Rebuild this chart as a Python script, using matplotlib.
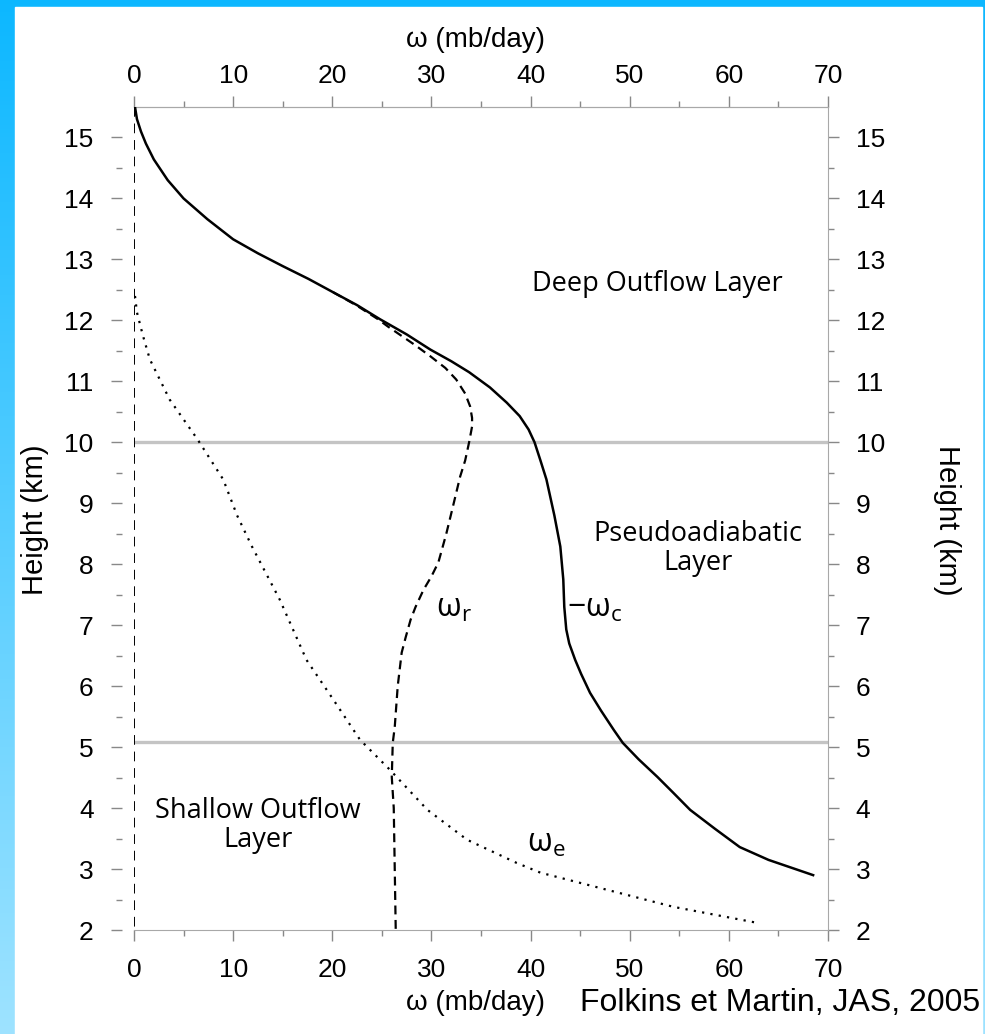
import numpy as np
import matplotlib
matplotlib.use("Agg")
import matplotlib.pyplot as plt
from matplotlib.patches import Rectangle

# omega_c (solid): heights (km) and values (mb/day)
z_c = [15.5, 15.3, 15.1, 14.9, 14.64, 14.3, 14.0, 13.66, 13.33, 13.1, 12.89,
       12.68, 12.46, 12.25, 12.02, 11.77, 11.52, 11.33, 11.15, 10.9, 10.65,
       10.43, 10.21, 10.0, 9.7, 9.39, 8.8, 8.29, 7.75, 7.3, 6.93, 6.7, 6.43,
       6.2, 5.89, 5.6, 5.28, 5.07, 4.8, 4.51, 4.25, 3.97, 3.66, 3.36, 3.15,
       2.9]
w_c = [0.1, 0.3, 0.7, 1.2, 2.0, 3.4, 5.0, 7.4, 10.0, 12.5, 15.0,
       17.6, 20.1, 22.5, 24.8, 27.5, 29.9, 32.0, 33.8, 35.9, 37.6,
       38.9, 39.8, 40.4, 41.0, 41.6, 42.4, 43.0, 43.3, 43.4, 43.6, 43.9, 44.5,
       45.1, 46.0, 47.1, 48.4, 49.3, 50.9, 52.8, 54.4, 56.1, 58.6, 61.1, 64.0,
       68.5]

# omega_r (dashed)
z_r = [12.46, 12.25, 12.02, 11.9, 11.8, 11.6, 11.41, 11.22, 11.03, 10.8,
       10.59, 10.4, 10.26, 10.0, 9.7, 9.44, 8.9, 8.5, 8.03, 7.8, 7.58, 7.3,
       7.09, 6.8, 6.55, 6.0, 5.33, 5.07, 4.51, 4.0, 3.0, 2.0]
w_r = [20.1, 22.4, 24.6, 25.6, 26.5, 28.3, 29.9, 31.4, 32.5, 33.4,
       33.9, 34.1, 34.1, 33.8, 33.4, 32.9, 32.1, 31.5, 30.7, 30.0, 29.2, 28.4,
       27.9, 27.4, 27.0, 26.6, 26.3, 26.1, 26.0, 26.2, 26.3, 26.4]

# omega_e (dotted)
z_e = [12.4, 12.13, 11.75, 11.36, 10.7, 10.05, 9.39, 8.8, 8.29, 7.42,
       6.43, 5.78, 5.12, 4.63, 3.97, 3.48, 3.1, 2.94, 2.66, 2.38, 2.11]
w_e = [0.1, 0.3, 0.9, 1.6, 3.6, 6.4, 9.0, 10.4, 11.9, 14.7,
       17.4, 20.1, 22.8, 25.8, 29.6, 33.6, 38.6, 41.0, 47.7, 54.4, 63.1]

# zero reference (dashed)
z_0 = [15.5, 2.0]
w_0 = [0.0, 0.0]

layer_tops = [10.0, 5.08]
x_ticks = [0, 10, 20, 30, 40, 50, 60, 70]
y_ticks = list(range(2, 16))

W, H = 985, 1034
fig = plt.figure(figsize=(W / 100, H / 100), dpi=100)

# blue frame behind the white panel
bg = fig.add_axes([0, 0, 1, 1], zorder=-5)
t = np.linspace(0, 1, 256)[:, None, None]
top = np.array([0.05, 0.72, 1.0])
bot = np.array([0.62, 0.89, 1.0])
grad = top * (1 - t) + bot * t
bg.imshow(np.repeat(grad, 4, axis=1), extent=[0, 1, 0, 1], aspect='auto')
bg.add_patch(Rectangle((15 / W, 0), (982 - 15) / W, 1 - 7 / H, color='white'))
bg.set_xlim(0, 1)
bg.set_ylim(0, 1)
bg.axis('off')

ax = fig.add_axes([134 / W, 104 / H, 694 / W, 823 / H])
ax.set_facecolor('white')

for z in layer_tops:
    ax.axhline(z, color='#c4c4c4', lw=2.4, zorder=1)

ax.plot(w_0, z_0, color='black', lw=1.4, ls=(0, (5, 3.5)), zorder=3)
ax.plot(w_c, z_c, color='black', lw=1.8, zorder=3)
ax.plot(w_r, z_r, color='black', lw=1.6, ls=(0, (4, 2.5)), zorder=3)
ax.plot(w_e, z_e, color='black', lw=1.6, ls=(0, (1, 2.8)), zorder=3)

ax.set_xlim(0, 70)
ax.set_ylim(2, 15.5)

sans = 'Liberation Sans'
spine_col = '#a8a8a8'
tick_col = '#888888'

ax.set_xticks(x_ticks)
ax.set_xticks(np.arange(5, 70, 10), minor=True)
ax.set_yticks(y_ticks)
ax.set_yticks(np.arange(2.5, 15.5, 1), minor=True)

for s in ['top', 'bottom', 'right']:
    ax.spines[s].set_color(spine_col)
ax.spines['left'].set_position(('outward', 9))
ax.spines['left'].set_color('none')

ax.tick_params(which='both', direction='out', color=tick_col, width=1.0,
               top=False, right=True, labelright=True, labelsize=19)
ax.tick_params(which='major', length=8)
ax.tick_params(which='minor', length=4)
ax.tick_params(axis='x', which='major', pad=12)
ax.tick_params(axis='y', which='major', pad=9)
ax.tick_params(axis='y', which='major', right=True, pad=12)

sec = ax.secondary_xaxis('top')
sec.set_xticks(x_ticks)
sec.set_xticks(np.arange(5, 70, 10), minor=True)
sec.spines['top'].set_color(spine_col)
sec.tick_params(which='both', direction='out', color=tick_col, width=1.0,
                labelsize=19)
sec.tick_params(which='major', length=8, pad=6)
sec.tick_params(which='minor', length=4)

for lab in ax.get_xticklabels() + ax.get_yticklabels() + sec.get_xticklabels():
    lab.set_family(sans)

fig.text(476 / W, 1 - 40 / H, 'ω (mb/day)', ha='center', va='center',
         fontsize=20, family=sans)
fig.text(476 / W, 1 - 1003 / H, 'ω (mb/day)', ha='center', va='center',
         fontsize=20, family=sans)
fig.text(980 / W, 1 - 1003 / H, 'Folkins et Martin, JAS, 2005', ha='right',
         va='center', fontsize=23, family=sans)
fig.text(35 / W, 1 - 520 / H, 'Height (km)', ha='center', va='center',
         rotation=90, fontsize=21, family=sans)
fig.text(947 / W, 1 - 520 / H, 'Height (km)', ha='center', va='center',
         rotation=270, fontsize=21, family=sans)

inner = 'Open Sans'
ax.text(52.8, 12.6, 'Deep Outflow Layer', ha='center', va='center',
        fontsize=19.5, family=inner)
ax.text(56.9, 8.26, 'Pseudoadiabatic\nLayer', ha='center', va='center',
        fontsize=19.5, family=inner, linespacing=1.05)
ax.text(12.5, 3.72, 'Shallow Outflow\nLayer', ha='center', va='center',
        fontsize=19.5, family=inner, linespacing=1.05)
ax.text(32.3, 7.28, r'$\mathregular{\omega_r}$', ha='center', va='center',
        fontsize=23, family=inner)
ax.text(43.7, 7.28, r'$\mathregular{-\omega_c}$', ha='left', va='center',
        fontsize=23, family=inner)
ax.text(41.6, 3.42, r'$\mathregular{\omega_e}$', ha='center', va='center',
        fontsize=23, family=inner)

fig.savefig('out.png', dpi=100)
